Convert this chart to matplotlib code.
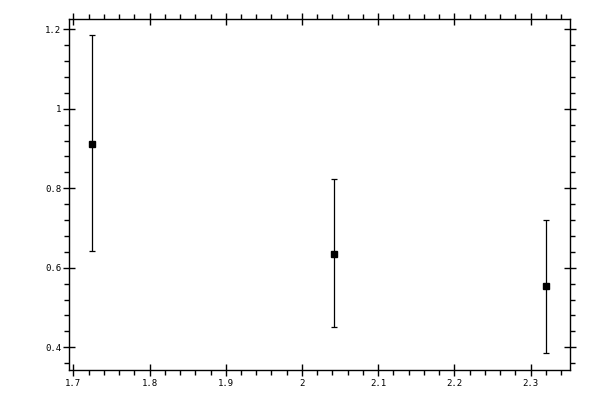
import matplotlib
matplotlib.use("Agg")
import matplotlib.pyplot as plt
from matplotlib.ticker import MultipleLocator, FuncFormatter

x_vals = [1.725, 2.042, 2.3205]
y_vals = [0.912, 0.635, 0.553]
y_err_low = [0.912 - 0.643, 0.635 - 0.450, 0.553 - 0.385]
y_err_high = [1.186 - 0.912, 0.823 - 0.635, 0.721 - 0.553]

fig = plt.figure(figsize=(6, 4), dpi=100)
ax = fig.add_axes([0.1158, 0.0743, 0.9505 - 0.1158, 0.9518 - 0.0743])

ax.errorbar(x_vals, y_vals, yerr=[y_err_low, y_err_high], fmt='s', color='black',
            markersize=5, elinewidth=0.9, capsize=2.5, capthick=0.9, ecolor='black')

ax.set_xlim(1.695, 2.352)
ax.set_ylim(0.342, 1.225)

ax.xaxis.set_major_locator(MultipleLocator(0.1))
ax.xaxis.set_minor_locator(MultipleLocator(0.02))
ax.yaxis.set_major_locator(MultipleLocator(0.2))
ax.yaxis.set_minor_locator(MultipleLocator(0.04))

fmt = FuncFormatter(lambda v, p: ('%g' % round(v, 6)))
ax.xaxis.set_major_formatter(fmt)
ax.yaxis.set_major_formatter(fmt)

for s in ax.spines.values():
    s.set_linewidth(1.0)

ax.tick_params(which='major', direction='inout', length=8, width=1.0,
               top=True, right=True, labelsize=6.5, pad=2)
ax.tick_params(which='minor', direction='out', length=3.5, width=1.0,
               top=True, right=True)
for lab in ax.get_xticklabels() + ax.get_yticklabels():
    lab.set_family('DejaVu Sans Mono')

fig.savefig("out.png", dpi=100)
